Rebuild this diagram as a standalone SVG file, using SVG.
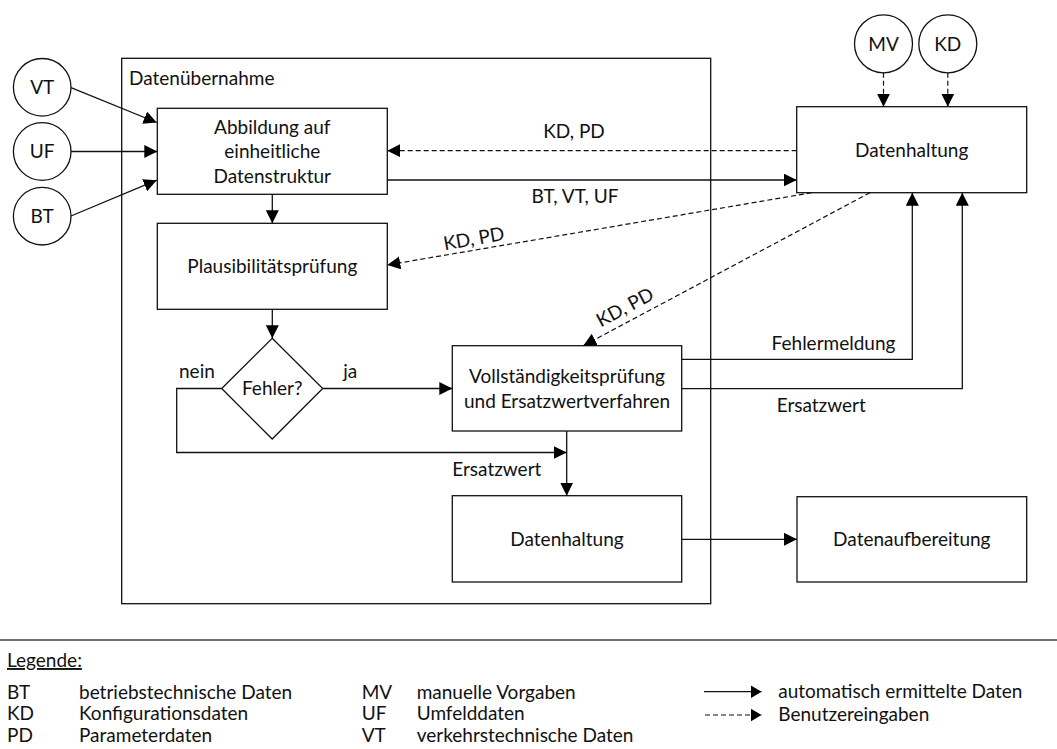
<svg xmlns="http://www.w3.org/2000/svg" width="1057" height="749" viewBox="0 0 1057 749">
  <style>
    .box { fill: #fff; stroke: #111; stroke-width: 1.3; }
    .frame { fill: none; stroke: #111; stroke-width: 1.3; }
    .ln { fill: none; stroke: #111; stroke-width: 1.3; }
    .dash { fill: none; stroke: #111; stroke-width: 1.2; stroke-dasharray: 5 3; }
    text { font-family: Lato, "Liberation Sans", sans-serif; font-size: 19px; fill: #111; }
    .c { text-anchor: middle; }
  </style>
  <defs>
    <marker id="arrow" markerUnits="userSpaceOnUse" markerWidth="14" markerHeight="14" refX="13" refY="6.5" orient="auto">
      <path d="M0,0 L13,6.5 L0,13 z" fill="#000"/>
    </marker>
    <marker id="arrowS" markerUnits="userSpaceOnUse" markerWidth="12" markerHeight="14" refX="11" refY="6.5" orient="auto">
      <path d="M0,0 L11,6.5 L0,13 z" fill="#000"/>
    </marker>
  </defs>

  <!-- outer frame: data takeover -->
  <g id="datenuebernahme">
    <rect class="frame" x="121.7" y="58.3" width="589" height="545.4"/>
    <text x="129" y="85">Datenübernahme</text>
  </g>

  <!-- source circles -->
  <g id="vt"><circle class="box" cx="42.2" cy="87.3" r="28.8"/><text class="c" x="42.2" y="94">VT</text></g>
  <g id="uf"><circle class="box" cx="42.2" cy="151.5" r="28.8"/><text class="c" x="42.2" y="158.2">UF</text></g>
  <g id="bt"><circle class="box" cx="42.2" cy="216.2" r="28.8"/><text class="c" x="42.2" y="223">BT</text></g>
  <g id="mv"><circle class="box" cx="883.5" cy="43.8" r="29"/><text class="c" x="883.5" y="50.7">MV</text></g>
  <g id="kd"><circle class="box" cx="947.8" cy="43.8" r="29"/><text class="c" x="947.8" y="50.7">KD</text></g>

  <!-- process boxes -->
  <g id="abbildung">
    <rect class="box" x="157.3" y="108.3" width="230" height="86"/>
    <text class="c" x="272.3" y="133.5">Abbildung auf</text>
    <text class="c" x="272.3" y="158.2">einheitliche</text>
    <text class="c" x="272.3" y="183">Datenstruktur</text>
  </g>
  <g id="plausibilitaet">
    <rect class="box" x="157.3" y="223.3" width="230" height="86"/>
    <text class="c" x="272.3" y="273.3">Plausibilitätsprüfung</text>
  </g>
  <g id="fehler">
    <path class="box" d="M272.2,338.3 L322.7,388.5 L272.2,439 L221.7,388.5 z"/>
    <text class="c" x="272.2" y="395">Fehler?</text>
  </g>
  <g id="vollstaendigkeit">
    <rect class="box" x="452.3" y="345.7" width="229.4" height="85.3"/>
    <text class="c" x="567" y="383.3">Vollständigkeitsprüfung</text>
    <text class="c" x="567" y="407.6">und Ersatzwertverfahren</text>
  </g>
  <g id="datenhaltung-intern">
    <rect class="box" x="452.3" y="495.7" width="229.4" height="86.3"/>
    <text class="c" x="567" y="546">Datenhaltung</text>
  </g>
  <g id="datenhaltung">
    <rect class="box" x="796.7" y="106.7" width="230" height="86"/>
    <text class="c" x="911.7" y="157">Datenhaltung</text>
  </g>
  <g id="datenaufbereitung">
    <rect class="box" x="797" y="496.7" width="229.7" height="85.3"/>
    <text class="c" x="911.8" y="546">Datenaufbereitung</text>
  </g>

  <!-- connectors -->
  <g id="connectors">
    <path class="ln" d="M71,87.7 L156.7,122.5" marker-end="url(#arrow)"/>
    <path class="ln" d="M71,151.5 L157.3,151.5" marker-end="url(#arrow)"/>
    <path class="ln" d="M71,216 L156.7,180.2" marker-end="url(#arrow)"/>
    <path class="ln" d="M272.3,194.3 L272.3,223.3" marker-end="url(#arrow)"/>
    <path class="ln" d="M387.3,180 L796.7,180" marker-end="url(#arrow)"/>
    <path class="dash" d="M796.7,150.7 L387.3,150.7" marker-end="url(#arrow)"/>
    <path class="dash" d="M811.7,192.7 L387.3,265" marker-end="url(#arrow)"/>
    <path class="dash" d="M870,192.7 L583.3,345.7" marker-end="url(#arrow)"/>
    <path class="dash" d="M883.5,72.8 L883.5,106.7" marker-end="url(#arrow)"/>
    <path class="dash" d="M947.8,72.8 L947.8,106.7" marker-end="url(#arrow)"/>
    <path class="ln" d="M272.3,309.3 L272.3,338.3" marker-end="url(#arrow)"/>
    <path class="ln" d="M322.7,388.5 L452.3,388.5" marker-end="url(#arrow)"/>
    <path class="ln" d="M221.7,388.5 L176.7,388.5 L176.7,452.5 L566.7,452.5" marker-end="url(#arrow)"/>
    <path class="ln" d="M566.7,431 L566.7,495.7" marker-end="url(#arrow)"/>
    <path class="ln" d="M681.7,359.3 L912.3,359.3 L912.3,192.7" marker-end="url(#arrow)"/>
    <path class="ln" d="M681.7,388.7 L962.3,388.7 L962.3,192.7" marker-end="url(#arrow)"/>
    <path class="ln" d="M681.7,539.3 L797,539.3" marker-end="url(#arrow)"/>

    <text class="c" x="574" y="138">KD, PD</text>
    <text class="c" x="575" y="203">BT, VT, UF</text>
    <text class="c" x="0" y="0" transform="translate(475,245) rotate(-10)">KD, PD</text>
    <text class="c" x="0" y="0" transform="translate(628,313) rotate(-28)">KD, PD</text>
    <text x="179" y="378.3">nein</text>
    <text x="343.3" y="378.3">ja</text>
    <text class="c" x="833.5" y="350">Fehlermeldung</text>
    <text x="776.7" y="411.7">Ersatzwert</text>
    <text x="452.3" y="475.7">Ersatzwert</text>
  </g>

  <!-- legend -->
  <g id="legende">
    <line x1="0" y1="640" x2="1057" y2="640" stroke="#6e6e6e" stroke-width="2"/>
    <text x="7" y="667" text-decoration="underline">Legende:</text>
    <text x="7" y="698.8">BT</text>
    <text x="79" y="698.8">betriebstechnische Daten</text>
    <text x="7" y="720.3">KD</text>
    <text x="79" y="720.3">Konfigurationsdaten</text>
    <text x="7" y="741.7">PD</text>
    <text x="79" y="741.7">Parameterdaten</text>
    <text x="361.7" y="698.8">MV</text>
    <text x="416.7" y="698.8">manuelle Vorgaben</text>
    <text x="361.7" y="720.3">UF</text>
    <text x="416.7" y="720.3">Umfelddaten</text>
    <text x="361.7" y="741.7">VT</text>
    <text x="416.7" y="741.7">verkehrstechnische Daten</text>
    <path class="ln" d="M704,691.7 L761.5,691.7" stroke-width="1" marker-end="url(#arrowS)"/>
    <path class="dash" d="M705,715 L761.5,715" stroke-width="1" stroke-dasharray="3 2" marker-end="url(#arrowS)"/>
    <text x="778.3" y="698.3">automatisch ermittelte Daten</text>
    <text x="778.3" y="721">Benutzereingaben</text>
  </g>
</svg>
